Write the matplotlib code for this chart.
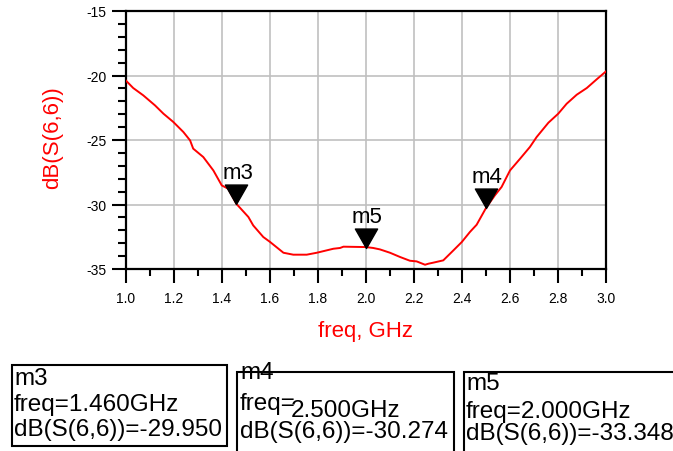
import numpy as np
import matplotlib.pyplot as plt
from matplotlib.patches import Rectangle
from matplotlib.path import Path
from matplotlib.ticker import MultipleLocator

# S(6,6) trace
freq = [1.000, 1.030, 1.072, 1.121, 1.156, 1.197, 1.239, 1.267, 1.280, 1.322,
        1.364, 1.399, 1.426, 1.460, 1.510, 1.530, 1.572, 1.600, 1.656, 1.697,
        1.753, 1.795, 1.864, 1.892, 1.906, 2.000, 2.030, 2.058, 2.100, 2.142,
        2.183, 2.211, 2.246, 2.260, 2.280, 2.322, 2.364, 2.399, 2.433, 2.461,
        2.500, 2.537, 2.565, 2.600, 2.642, 2.683, 2.711, 2.760, 2.801, 2.836,
        2.878, 2.920, 2.961, 3.000]
s66 = [-20.40, -20.97, -21.54, -22.32, -22.96, -23.60, -24.38, -25.03, -25.67, -26.32,
       -27.36, -28.52, -28.78, -29.95, -30.97, -31.62, -32.52, -32.90, -33.74, -33.89,
       -33.89, -33.74, -33.43, -33.37, -33.27, -33.30, -33.37, -33.48, -33.74, -34.07,
       -34.36, -34.41, -34.67, -34.59, -34.51, -34.33, -33.56, -32.91, -32.13, -31.57,
       -30.27, -29.29, -28.64, -27.36, -26.45, -25.54, -24.77, -23.66, -22.96, -22.19,
       -21.49, -20.97, -20.30, -19.68]

mk_names = ['m3', 'm4', 'm5']
mk_freq = [1.460, 2.500, 2.000]
mk_db = [-29.950, -30.274, -33.348]

W, H = 673, 452
def fx(x):
    return x / W
def fy(y):
    return 1 - y / H

fig = plt.figure(figsize=(6.73, 4.52), dpi=100)
plt.rcParams['font.family'] = ['Liberation Sans', 'DejaVu Sans']
ax = fig.add_axes([fx(126), fy(270), fx(606) - fx(126), fy(12) - fy(270)])

ax.plot(freq, s66, color='red', lw=1.4, zorder=3)

# marker triangles with tip on the trace
tri = Path([(0, 0), (-1, 1.75), (1, 1.75), (0, 0)],
           [Path.MOVETO, Path.LINETO, Path.LINETO, Path.CLOSEPOLY])
for name, f, v in zip(mk_names, mk_freq, mk_db):
    ax.plot([f], [v], marker=tri, ms=28, color='black', ls='none', zorder=4)
    ax.annotate(name, (f, v), xytext=(1, 18.5), textcoords='offset points',
                ha='center', va='baseline', fontsize=16)

ax.set_xlim(1.0, 3.0)
ax.set_ylim(-35, -15)
ax.xaxis.set_major_locator(MultipleLocator(0.2))
ax.xaxis.set_minor_locator(MultipleLocator(0.1))
ax.yaxis.set_major_locator(MultipleLocator(5))
ax.yaxis.set_minor_locator(MultipleLocator(1))
ax.grid(True, which='major', color='#c0c0c0', lw=1.2)
ax.set_axisbelow(True)
for s in ax.spines.values():
    s.set_linewidth(1.6)
ax.tick_params(axis='x', which='major', direction='out', length=10, width=1.5,
               pad=6, labelsize=10)
ax.tick_params(axis='x', which='minor', direction='out', length=5, width=1.5)
ax.tick_params(axis='y', which='major', direction='out', length=10, width=1.5,
               pad=4, labelsize=10)
ax.tick_params(axis='y', which='minor', direction='out', length=5.5, width=1.5)
ax.xaxis.set_major_formatter(plt.FuncFormatter(lambda v, p: f'{v:.1f}'))
ax.yaxis.set_major_formatter(plt.FuncFormatter(lambda v, p: f'{v:.0f}'))

fig.text(fx(366), fy(337), 'freq, GHz', color='red', fontsize=16,
         ha='center', va='baseline')
fig.text(fx(53), fy(138), 'dB(S(6,6))', color='red', fontsize=16,
         ha='center', va='center', rotation=90)

# marker readout boxes
boxes = [(12, 366, 227, 447), (237, 373, 454, 458), (464, 373, 680, 458)]
for (x0, y0, x1, y1) in boxes:
    fig.patches.append(Rectangle((fx(x0), fy(y1)), fx(x1) - fx(x0), fy(y0) - fy(y1),
                                 transform=fig.transFigure, fill=False,
                                 ec='black', lw=1.5, clip_on=False))

fs = 17.5
# m3
fig.text(fx(14), fy(385), 'm3', fontsize=fs, va='baseline')
fig.text(fx(14), fy(411), 'freq=1.460GHz', fontsize=fs, va='baseline')
fig.text(fx(14), fy(436), 'dB(S(6,6))=-29.950', fontsize=fs, va='baseline')
# m4
fig.text(fx(240), fy(379), 'm4', fontsize=fs, va='baseline')
fig.text(fx(240), fy(410), 'freq=', fontsize=fs, va='baseline')
fig.text(fx(291), fy(417), '2.500GHz', fontsize=fs, va='baseline')
fig.text(fx(240), fy(438), 'dB(S(6,6))=-30.274', fontsize=fs, va='baseline')
# m5
fig.text(fx(466), fy(390), 'm5', fontsize=fs, va='baseline')
fig.text(fx(466), fy(418), 'freq=2.000GHz', fontsize=fs, va='baseline')
fig.text(fx(466), fy(440), 'dB(S(6,6))=-33.348', fontsize=fs, va='baseline')

fig.savefig('out.png', dpi=100)
